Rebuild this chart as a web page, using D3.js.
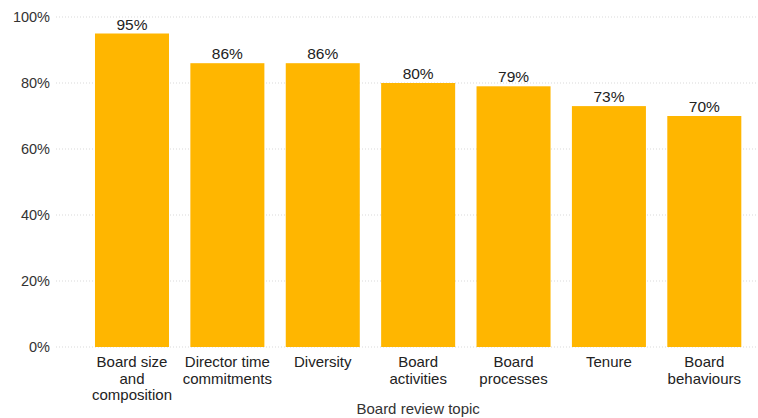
<!DOCTYPE html>
<html>
<head>
<meta charset="utf-8">
<script src="https://cdn.jsdelivr.net/npm/d3@7"></script>
<style>
  html, body { margin: 0; padding: 0; background: #fff; }
  svg { display: block; font-family: "Liberation Sans", Arial, sans-serif; }
</style>
</head>
<body>
<svg id="chart" width="758" height="418"></svg>
<script>
// Share of board reviews covering each topic
const categories = [
  ["Board size", "and", "composition"],
  ["Director time", "commitments"],
  ["Diversity"],
  ["Board", "activities"],
  ["Board", "processes"],
  ["Tenure"],
  ["Board", "behaviours"]
];
const values = [95, 86, 86, 80, 79, 73, 70];
const yTicks = [0, 20, 40, 60, 80, 100];
const xTitle = "Board review topic";

const svg = d3.select("#chart");
const W = 758, H = 418;
const yTop = 17, yBottom = 347;
const gridLeft = 56;

const x = d3.scaleBand()
  .domain(d3.range(categories.length))
  .range([84.3, 752])
  .paddingInner(0.224)
  .paddingOuter(0.112);

const y = d3.scaleLinear().domain([0, 100]).range([yBottom, yTop]);

// dotted horizontal grid
svg.append("g").selectAll("line")
  .data(yTicks)
  .join("line")
  .attr("x1", gridLeft).attr("x2", W)
  .attr("y1", d => y(d)).attr("y2", d => y(d))
  .attr("stroke", "#d9d9d9")
  .attr("stroke-width", 1)
  .attr("stroke-dasharray", "1,2");

// y axis labels
const yAxis = d3.axisLeft(y).tickValues(yTicks).tickFormat(d => d + "%").tickSize(0).tickPadding(0);
const gy = svg.append("g").attr("transform", `translate(50,0)`).call(yAxis);
gy.select(".domain").remove();
gy.selectAll("text")
  .attr("font-size", 14.5)
  .attr("fill", "#333")
  .attr("font-family", "Liberation Sans, Arial, sans-serif");

// bars
svg.append("g").selectAll("rect")
  .data(values)
  .join("rect")
  .attr("x", (d, i) => x(i))
  .attr("width", x.bandwidth())
  .attr("y", d => y(d))
  .attr("height", d => y(0) - y(d))
  .attr("fill", "#FFB600");

// value labels
svg.append("g").selectAll("text")
  .data(values)
  .join("text")
  .attr("x", (d, i) => x(i) + x.bandwidth() / 2)
  .attr("y", d => y(d) - 4)
  .attr("text-anchor", "middle")
  .attr("font-size", 15.5)
  .attr("fill", "#222")
  .text(d => d + "%");

// category labels
const cat = svg.append("g").selectAll("text")
  .data(categories)
  .join("text")
  .attr("x", (d, i) => x(i) + x.bandwidth() / 2)
  .attr("y", 367)
  .attr("text-anchor", "middle")
  .attr("font-size", 15)
  .attr("fill", "#222");
cat.each(function(lines, i) {
  d3.select(this).selectAll("tspan")
    .data(lines)
    .join("tspan")
    .attr("x", x(i) + x.bandwidth() / 2)
    .attr("dy", (l, j) => j === 0 ? 0 : 16.5)
    .text(l => l);
});

// axis title
const [r0, r1] = x.range();
svg.append("text")
  .attr("x", (r0 + r1) / 2)
  .attr("y", 414)
  .attr("text-anchor", "middle")
  .attr("font-size", 15)
  .attr("fill", "#333")
  .text(xTitle);
</script>
</body>
</html>
